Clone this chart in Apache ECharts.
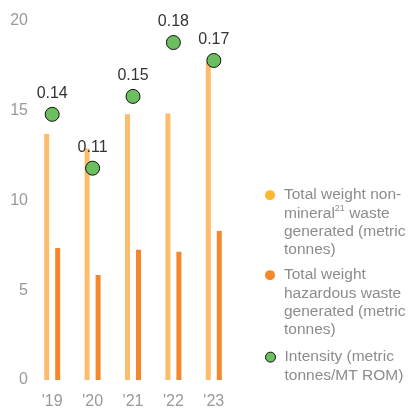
<!DOCTYPE html>
<html><head><meta charset="utf-8">
<script src="https://cdn.jsdelivr.net/npm/echarts@6/dist/echarts.min.js"></script>
<style>html,body{margin:0;padding:0;background:#fff}#c{width:409px;height:410px}</style>
</head><body><div id="c"></div>
<script>
const categories = ["'19", "'20", "'21", "'22", "'23"];
const nonMineral = [13.7, 12.9, 14.8, 14.85, 17.7];
const hazardous = [7.35, 5.85, 7.25, 7.15, 8.3];
const intensity = [0.14, 0.11, 0.15, 0.18, 0.17];
const yTicks = [0, 5, 10, 15, 20];

const names = [
  'Total weight non-\nmineral{sup|21} waste\ngenerated (metric\ntonnes)',
  'Total weight\nhazardous waste\ngenerated (metric\ntonnes)',
  'Intensity (metric\ntonnes/MT ROM)'
];
const FONT = 'Liberation Sans';
const LH = 18.3;
function legendFor(name, top, color, border) {
  const lines = name.split('\n').length;
  return {
    show: true, left: 265, top: top, orient: 'vertical', padding: 0,
    data: [{name: name, icon: 'circle', itemStyle: border ? {color: color, borderColor: '#111', borderWidth: 1} : {color: color}}],
    itemWidth: 10, itemHeight: 10, itemGap: 0, selectedMode: false,
    textStyle: {fontFamily: FONT, fontSize: 15.5, color: '#8c8c8c', lineHeight: LH,
      padding: [(lines - 1) * LH, 0, 0, 4],
      rich: {sup: {fontSize: 9, verticalAlign: 'top', lineHeight: 12, color: '#8c8c8c', fontFamily: FONT, padding:[0,0,6,0]}}}
  };
}
const chart = echarts.init(document.getElementById('c'));
chart.setOption({
  animation: false,
  backgroundColor: '#fff',
  grid: {left: 32, right: 175, top: 21, bottom: 30, containLabel: false},
  legend: [
    legendFor(names[0], 186 - 3 * LH, '#fcb731'),
    legendFor(names[1], 266 - 3 * LH, '#f4882b'),
    legendFor(names[2], 348 - LH, '#6cbf5e', true)
  ],
  xAxis: {
    type: 'category', data: categories,
    axisLine: {show: false}, axisTick: {show: false},
    axisLabel: {fontFamily: FONT, fontSize: 16, color: '#999', margin: 14}
  },
  yAxis: [{
    type: 'value', min: 0, max: 20, interval: 5,
    axisLine: {show: false}, axisTick: {show: false}, splitLine: {show: false},
    axisLabel: {fontFamily: FONT, fontSize: 16, color: '#999', margin: 4,
      formatter: v => yTicks.includes(v) ? String(v) : ''}
  }, {
    type: 'value', min: -0.008, max: 0.192, show: false, splitLine: {show: false}
  }],
  series: [
    {name: names[0], type: 'bar', data: nonMineral, barWidth: 5, barGap: '120%',
      itemStyle: {color: '#fdbc6b'}},
    {name: names[1], type: 'bar', data: hazardous, barWidth: 5, barGap: '120%',
      itemStyle: {color: '#f3872a'}},
    {name: names[2], type: 'line', yAxisIndex: 1, data: intensity,
      lineStyle: {width: 0, opacity: 0}, symbol: 'circle', symbolSize: 14,
      itemStyle: {color: '#6cbf5e', borderColor: '#111', borderWidth: 1},
      label: {show: true, position: 'top', distance: 5, fontFamily: FONT, fontSize: 16, color: '#333',
        formatter: p => p.value.toFixed(2)},
      z: 5}
  ]
});
</script></body></html>
